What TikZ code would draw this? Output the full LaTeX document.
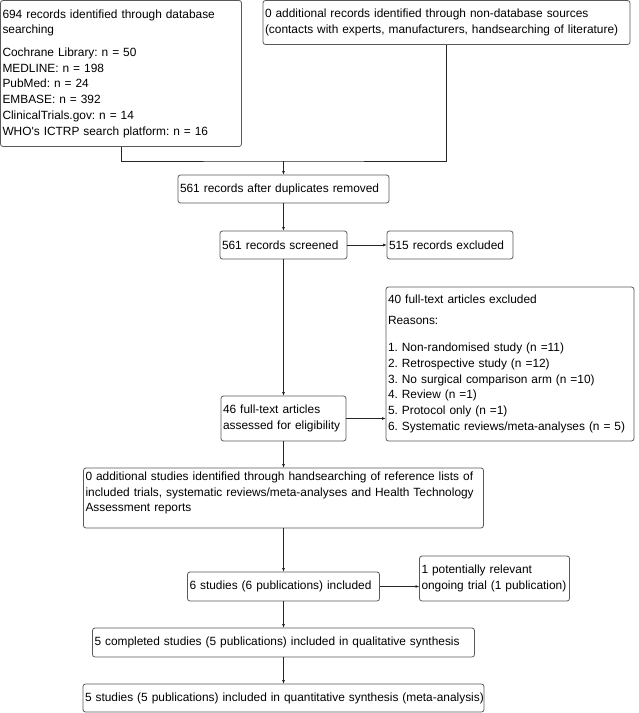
\documentclass[tikz,border=0pt]{standalone}
\usepackage{fontspec}
\setmainfont{Liberation Sans}
\usetikzlibrary{arrows.meta, positioning, calc}

\begin{document}
\begin{tikzpicture}[x=1pt, y=1pt, >={Latex[length=4pt,width=3pt]},
        box/.style={draw=black!65, line width=0.8pt, rounded corners=2.5pt, align=left, outer sep=0pt,
            inner xsep=2pt, inner ysep=0pt, font=\fontsize{11.9}{15.7}\selectfont\frenchspacing},
        line/.style={draw=black!85, line width=0.8pt}]
        \useasboundingbox (0,0) rectangle (639,-713);

        \node (db) [box, anchor=north west, text width=237pt, minimum height=146pt] at (0.5,-0.5)
            {694 records identified through database\\ searching\\[7pt]
             Cochrane Library: n = 50\\ MEDLINE: n = 198\\ PubMed: n = 24\\ EMBASE: n = 392\\
             ClinicalTrials.gov: n = 14\\ WHO\textquotesingle s ICTRP search platform: n = 16};
        \node (other) [box, anchor=north west, text width=363pt, minimum height=44pt] at (263,-0.5)
            {0 additional records identified through non-database sources\\
             (contacts with experts, manufacturers, handsearching of literature)};

        \node (dup) [box, text width=207pt, minimum height=28pt] at (283.5,-189) {561 records after duplicates removed};
        \node (scr) [box, below=28pt of dup, text width=123pt, minimum height=28pt] {561 records screened};
        \node (exc) [box, right=40pt of scr, text width=122pt, minimum height=28pt] {515 records excluded};
        \node (elig) [box, below=137pt of scr, text width=121pt, minimum height=45pt]
            {46 full-text articles\\ assessed for eligibility};
        \node (ftx) [box, right=40pt of elig.south east, anchor=south west, text width=244pt, minimum height=154pt]
            {40 full-text articles excluded\\[5pt] Reasons:\\[11.5pt]
             1. Non-randomised study (n =11)\\ 2. Retrospective study (n =12)\\
             3. No surgical comparison arm (n =10)\\ 4. Review (n =1)\\
             5. Protocol only (n =1)\\ 6. Systematic reviews/meta-analyses (n = 5)};
        \node (hand) [box, below=27pt of elig, text width=396pt, minimum height=60pt, text depth=44pt]
            {0 additional studies identified through handsearching of reference lists of\\
             included trials, systematic reviews/meta-analyses and Health Technology\\
             Assessment reports};
        \node (incl) [box, below=44pt of hand, text width=188pt, minimum height=29pt] {6 studies (6 publications) included};
        \node (ongo) [box, right=40pt of incl.south east, anchor=south west, text width=146pt, minimum height=45pt]
            {1 potentially relevant\\ ongoing trial (1 publication)};
        \node (qual) [box, below=27pt of incl, text width=378pt, minimum height=29pt]
            {\mbox{5 completed studies (5 publications) included in qualitative synthesis}};
        \node (quan) [box, below=27pt of qual, text width=397pt, minimum height=28pt]
            {\mbox{5 studies (5 publications) included in quantitative synthesis (meta-analysis)}};

        \coordinate (mrg) at ($(dup.north)+(0,14)$);
        \draw[line] (db.south) |- (mrg) -| (other.south);
        \draw[line, ->] (mrg) -- (dup);
        \draw[line, ->] (dup) -- (scr);
        \draw[line, ->] (scr) -- (exc);
        \draw[line, ->] (scr) -- (elig);
        \draw[line, ->] (elig.east) -- (elig.east -| ftx.west);
        \draw[line, ->] (elig) -- (hand);
        \draw[line, ->] (hand) -- (incl);
        \draw[line, ->] (incl.east) -- (incl.east -| ongo.west);
        \draw[line, ->] (incl) -- (qual);
        \draw[line, ->] (qual) -- (quan);
    \end{tikzpicture}
\end{document}
